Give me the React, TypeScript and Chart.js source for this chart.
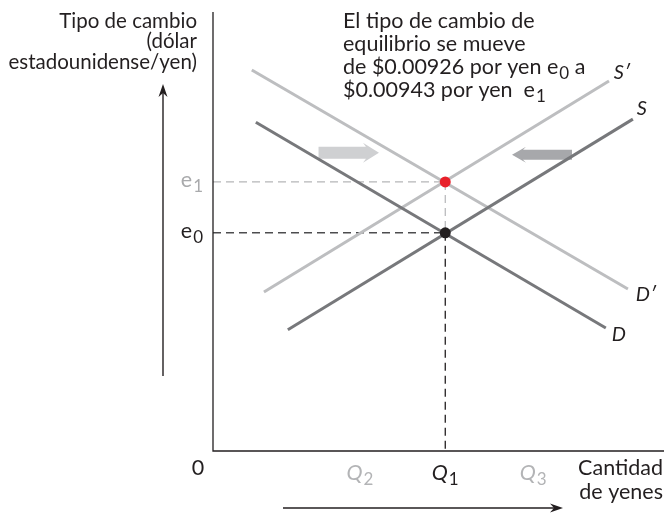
import React, { useEffect, useRef } from "react";
import { Chart, registerables } from "chart.js";

Chart.register(...registerables);

// ---- data (abstract diagram units, 0..100 on both axes) ----
const X_MAX = 100;
const Y_MAX = 100;

const demandX = [9.5, 87.1];
const demandY = [74.9, 28.0];
const demandNewX = [8.6, 92.0];
const demandNewY = [86.8, 36.9];
const supplyX = [16.6, 93.1];
const supplyY = [27.6, 75.6];
const supplyNewX = [11.3, 87.8];
const supplyNewY = [36.2, 84.3];

const curveLabels = ["D", "D\u2032", "S", "S\u2032"];

const equilibriumQ = 51.5;
const rateE0 = 49.7;
const rateE1 = 61.3;

const quantityTickValues = [32.6, 51.5, 71.0];
const quantityTickSubs = ["2", "1", "3"];
const rateTickValues = [rateE0, rateE1];
const rateTickSubs = ["0", "1"];

// shift arrows: [tail, tip] in x units, at a given y
const demandShiftArrow = [23.4, 36.8];
const supplyShiftArrow = [79.6, 66.3];
const shiftArrowY = 67.7;

const titleLines = [
  "El tipo de cambio de",
  "equilibrio se mueve",
  "de $0.00926 por yen ",
  "$0.00943 por yen  ",
];
const yAxisTitle = ["Tipo de cambio", "(dólar", "estadounidense/yen)"];
const xAxisTitle = ["Cantidad", "de yenes"];

const DARK = "#77787b";
const LIGHT = "#bdbec0";
const INK = "#231f20";
const FONT = "Lato, 'Open Sans', sans-serif";
const TXT = 21.5;

function pts(xs: number[], ys: number[]) {
  return xs.map((v, i) => ({ x: v, y: ys[i] }));
}

function drawSub(
  ctx: CanvasRenderingContext2D,
  base: string,
  sub: string,
  x: number,
  y: number,
  size: number,
  italic: boolean,
  color: string,
  align: "left" | "center" | "right"
) {
  const bf = `${italic ? "italic " : ""}${size}px ${FONT}`;
  const sf = `${Math.round(size * 0.78)}px ${FONT}`;
  ctx.font = bf;
  const bw = ctx.measureText(base).width;
  ctx.font = sf;
  const sw = ctx.measureText(sub).width;
  const total = bw + sw + 1;
  let sx = x;
  if (align === "center") sx = x - total / 2;
  if (align === "right") sx = x - total;
  ctx.fillStyle = color;
  ctx.textAlign = "left";
  ctx.textBaseline = "alphabetic";
  ctx.font = bf;
  ctx.fillText(base, sx, y);
  ctx.font = sf;
  ctx.fillText(sub, sx + bw + 1, y + size * 0.25);
  return sx + total;
}

function blockArrow(
  ctx: CanvasRenderingContext2D,
  tail: number,
  tip: number,
  cy: number,
  bodyHalf: number,
  headHalf: number,
  headLen: number,
  color: string
) {
  const dir = tip > tail ? 1 : -1;
  const hb = tip - dir * headLen;
  ctx.beginPath();
  ctx.moveTo(tail, cy - bodyHalf);
  ctx.lineTo(hb, cy - bodyHalf);
  ctx.lineTo(hb - dir * 3, cy - headHalf);
  ctx.lineTo(tip, cy);
  ctx.lineTo(hb - dir * 3, cy + headHalf);
  ctx.lineTo(hb, cy + bodyHalf);
  ctx.lineTo(tail, cy + bodyHalf);
  ctx.closePath();
  ctx.fillStyle = color;
  ctx.fill();
}

function lineArrow(
  ctx: CanvasRenderingContext2D,
  x1: number,
  y1: number,
  x2: number,
  y2: number
) {
  const ang = Math.atan2(y2 - y1, x2 - x1);
  ctx.strokeStyle = INK;
  ctx.fillStyle = INK;
  ctx.lineWidth = 1.4;
  ctx.beginPath();
  ctx.moveTo(x1, y1);
  ctx.lineTo(x2 - Math.cos(ang) * 8, y2 - Math.sin(ang) * 8);
  ctx.stroke();
  const len = 13;
  const w = 4.5;
  ctx.beginPath();
  ctx.moveTo(x2, y2);
  ctx.lineTo(
    x2 - Math.cos(ang) * len - Math.sin(ang) * w,
    y2 - Math.sin(ang) * len + Math.cos(ang) * w
  );
  ctx.lineTo(x2 - Math.cos(ang) * (len - 4), y2 - Math.sin(ang) * (len - 4));
  ctx.lineTo(
    x2 - Math.cos(ang) * len + Math.sin(ang) * w,
    y2 - Math.sin(ang) * len - Math.cos(ang) * w
  );
  ctx.closePath();
  ctx.fill();
}

const annotations = {
  id: "annotations",
  beforeDatasetsDraw(chart: any) {
    const { ctx } = chart;
    const xs = chart.scales.x;
    const ys = chart.scales.y;
    ctx.save();
    const ay = ys.getPixelForValue(shiftArrowY);
    blockArrow(
      ctx,
      xs.getPixelForValue(demandShiftArrow[0]),
      xs.getPixelForValue(demandShiftArrow[1]),
      ay - 1,
      6,
      10,
      13,
      "#cfd0d2"
    );
    blockArrow(
      ctx,
      xs.getPixelForValue(supplyShiftArrow[0]),
      xs.getPixelForValue(supplyShiftArrow[1]),
      ay + 1,
      5,
      8,
      11,
      "#a7a8ab"
    );
    ctx.restore();
  },
  afterDatasetsDraw(chart: any) {
    const { ctx, chartArea } = chart;
    const xs = chart.scales.x;
    const ys = chart.scales.y;
    const L = chartArea.left;
    const B = chartArea.bottom;
    ctx.save();

    // axes
    ctx.strokeStyle = INK;
    ctx.lineWidth = 1.3;
    ctx.beginPath();
    ctx.moveTo(L, chartArea.top);
    ctx.lineTo(L, B);
    ctx.lineTo(chartArea.right, B);
    ctx.stroke();

    // curve labels
    const ends = [
      { x: demandX[1], y: demandY[1], dx: 13, dy: 13 },
      { x: demandNewX[1], y: demandNewY[1], dx: 18, dy: 12 },
      { x: supplyX[1], y: supplyY[1], dx: 9, dy: -4 },
      { x: supplyNewX[1], y: supplyNewY[1], dx: 13, dy: -2 },
    ];
    ctx.font = `italic 20px ${FONT}`;
    ctx.fillStyle = INK;
    ctx.textAlign = "center";
    ctx.textBaseline = "alphabetic";
    ends.forEach((e, i) => {
      ctx.fillText(
        curveLabels[i],
        xs.getPixelForValue(e.x) + e.dx,
        ys.getPixelForValue(e.y) + e.dy
      );
    });

    // rate ticks (e0, e1)
    rateTickValues.forEach((v, i) => {
      const py = ys.getPixelForValue(v);
      drawSub(ctx, "e", rateTickSubs[i], L - 10, py + 5, TXT, false, i === 0 ? INK : "#a9aaac", "right");
    });

    // quantity ticks
    quantityTickValues.forEach((v, i) => {
      const px = xs.getPixelForValue(v);
      drawSub(ctx, "Q", quantityTickSubs[i], px, B + 29, TXT, true, i === 1 ? INK : "#b3b4b6", "center");
    });

    // origin
    ctx.font = `${TXT}px ${FONT}`;
    ctx.fillStyle = INK;
    ctx.textAlign = "center";
    ctx.fillText("0", L - 15, B + 24);

    // x-axis title
    ctx.font = `${TXT}px ${FONT}`;
    ctx.textAlign = "right";
    ctx.fillText(xAxisTitle[0], chartArea.right - 1, B + 24);
    ctx.fillText(xAxisTitle[1], chartArea.right - 1, B + 48);

    // y-axis title
    ctx.font = `20.5px ${FONT}`;
    yAxisTitle.forEach((t, i) => {
      ctx.fillText(t, L - 16, 28 + i * 20.3);
    });

    // title block
    const tx = 343;
    titleLines.forEach((t, i) => {
      ctx.font = `${TXT}px ${FONT}`;
      ctx.fillStyle = INK;
      ctx.textAlign = "left";
      const by = 28 + i * 23;
      ctx.fillText(t, tx, by);
      const w = ctx.measureText(t).width;
      if (i === 2) {
        const end = drawSub(ctx, "e", "0", tx + w, by, TXT, false, INK, "left");
        ctx.font = `${TXT}px ${FONT}`;
        ctx.fillStyle = INK;
        ctx.textAlign = "left";
        ctx.fillText(" a", end, by);
      }
      if (i === 3) {
        drawSub(ctx, "e", "1", tx + w, by, TXT, false, INK, "left");
      }
    });

    // direction arrows
    lineArrow(ctx, L - 50, 376, L - 50, 84);
    lineArrow(ctx, 283, B + 57, 563, B + 57);

    ctx.restore();
  },
};

export default function App() {
  const ref = useRef<HTMLCanvasElement>(null);
  useEffect(() => {
    document.body.style.margin = "0";
    if (!ref.current) return;
    const lineDs = (label: string, data: any, color: string, width: number, order: number, dash: number[] = []) => ({
      type: "line" as const,
      label,
      data,
      order,
      borderColor: color,
      borderWidth: width,
      borderDash: dash,
      pointRadius: 0,
      showLine: true,
      fill: false,
      tension: 0,
      borderCapStyle: "butt" as const,
    });
    const chart = new Chart(ref.current, {
      type: "scatter",
      data: {
        datasets: [
          lineDs("e1 guide", pts([0, equilibriumQ], [rateE1, rateE1]), "#b5b6b8", 1.2, 5, [8, 5]),
          lineDs("e1-e0 guide", pts([equilibriumQ, equilibriumQ], [rateE1, rateE0]), "#b5b6b8", 1.2, 5, [8, 5]),
          lineDs("e0 guide", pts([0, equilibriumQ], [rateE0, rateE0]), "#4d4d4f", 1.5, 5, [8, 5]),
          lineDs("Q1 guide", pts([equilibriumQ, equilibriumQ], [rateE0, 0]), "#231f20", 1.3, 5, [8, 5]),
          lineDs("D'", pts(demandNewX, demandNewY), LIGHT, 3, 3),
          lineDs("S'", pts(supplyNewX, supplyNewY), LIGHT, 3, 3),
          lineDs("D", pts(demandX, demandY), DARK, 3, 2),
          lineDs("S", pts(supplyX, supplyY), DARK, 3, 2),
          {
            type: "scatter" as const,
            label: "equilibria",
            order: 0,
            data: pts([equilibriumQ, equilibriumQ], [rateE1, rateE0]),
            pointRadius: 5.5,
            pointBackgroundColor: ["#e8202a", "#231f20"],
            pointBorderColor: ["#e8202a", "#231f20"],
            pointBorderWidth: 0,
            showLine: false,
          },
        ] as any,
      },
      options: {
        animation: false,
        responsive: false,
        layout: { padding: { left: 213, right: 0, top: 12, bottom: 63 }, autoPadding: false },
        scales: {
          x: { type: "linear", min: 0, max: X_MAX, display: false },
          y: { type: "linear", min: 0, max: Y_MAX, display: false },
        },
        plugins: { legend: { display: false }, tooltip: { enabled: false } },
        events: [],
      } as any,
      plugins: [annotations],
    });
    return () => chart.destroy();
  }, []);
  return (
    <div style={{ position: "fixed", left: 0, top: 0, width: 664, height: 514, background: "#fff" }}>
      <canvas ref={ref} width={664} height={514} />
    </div>
  );
}
